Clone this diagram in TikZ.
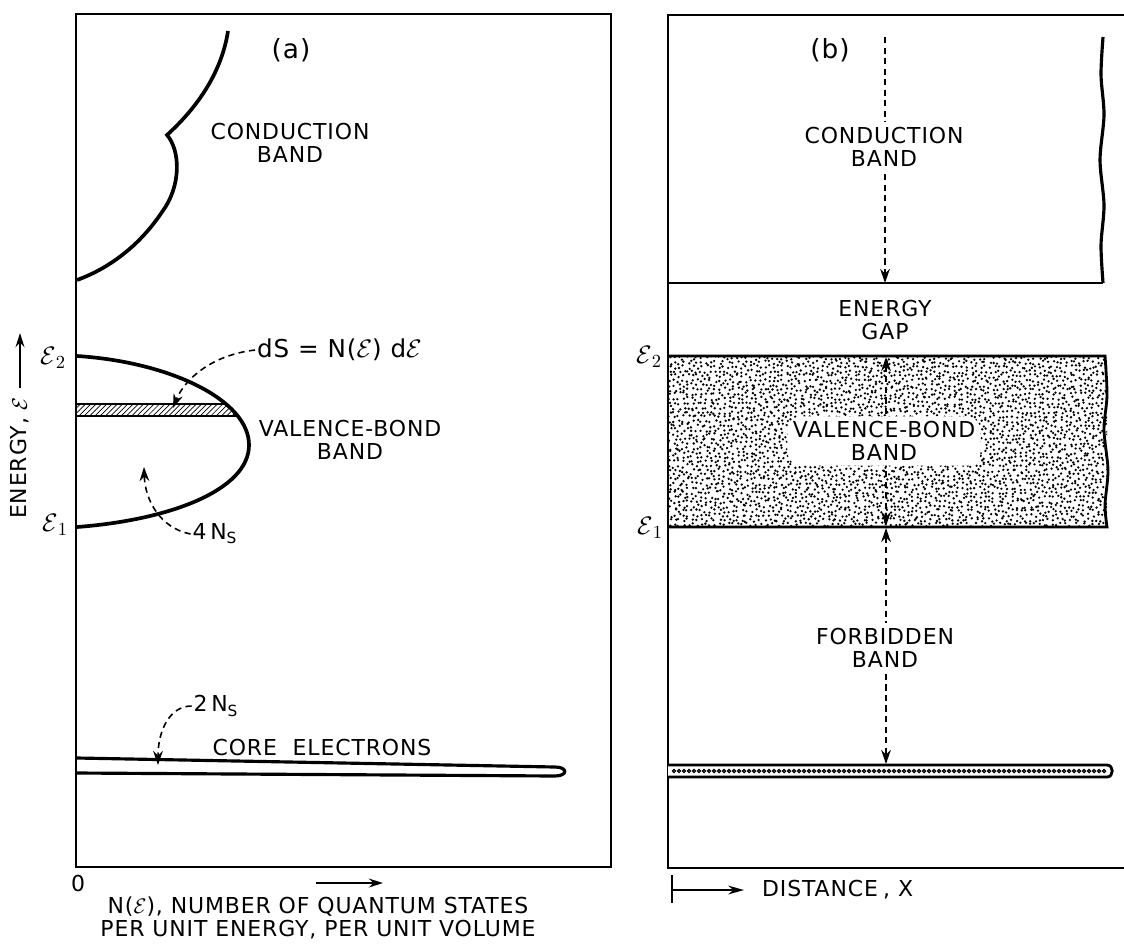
\documentclass[tikz,border=0pt]{standalone}
\usepackage{fontspec}
\newfontfamily\lbl{DejaVu Sans}[LetterSpace=4]
\usetikzlibrary{patterns,arrows.meta}
\begin{document}
\begin{tikzpicture}[x=0.02cm,y=-0.02cm,
  lab/.style={font=\lbl\fontsize{12.5}{12.8}\selectfont, align=center, inner sep=1pt},
  big/.style={font=\lbl\fontsize{15}{16}\selectfont, inner sep=1pt},
  elab/.style={font=\fontsize{15}{16}\selectfont, inner sep=1pt},
  frame/.style={line width=1.2pt},
  band/.style={line width=2.1pt},
  dsh/.style={line width=0.9pt, dash pattern=on 3.5pt off 2.5pt, -{Stealth[length=8pt,width=5.5pt]}},
  dsh2/.style={line width=0.9pt, dash pattern=on 3.5pt off 2.5pt, {Stealth[length=8pt,width=5.5pt]}-{Stealth[length=8pt,width=5.5pt]}},
  solidarrow/.style={line width=1.6pt, -{Stealth[length=8pt,width=5pt]}},
  wlab/.style={lab, fill=white, rounded corners=8pt, inner sep=3pt}
]
\useasboundingbox (0,0) rectangle (1124,943);

% ---------------- panel (a) ----------------
\draw[frame] (76,14) rectangle (611,867);
\node[big] (pa) at (291,50) {(a)};

% conduction band curve
\draw[band] (228,31) .. controls (222,70) and (200,105) .. (167,135)
  .. controls (180,150) and (182,185) .. (162,212)
  .. controls (140,245) and (110,268) .. (77,280);
\node[lab] (cba) at (290,143) {CONDUCTION\\BAND};

% valence band curve
\draw[band] (77,356) .. controls (170,362) and (249,400) .. (249,445)
  .. controls (249,490) and (170,520) .. (77,527);
\begin{scope}
  \clip (77,356) .. controls (170,362) and (249,400) .. (249,445)
    .. controls (249,490) and (170,520) .. (77,527) -- cycle;
  \fill[pattern=north east lines] (77,404) rectangle (260,416);
  \draw[line width=0.9pt] (77,404) -- (260,404) (77,416) -- (260,416);
\end{scope}

\node[lab, font=\lbl\fontsize{14}{15}\selectfont, anchor=west] (ds) at (255,350) {dS = N($\mathcal{E}$) d$\mathcal{E}$};
\coordinate (dsT) at (173,408);
\draw[dsh] (ds.west) .. controls (205,356) and (182,385) .. (dsT);

\node[lab] (vba) at (350,440) {VALENCE-BOND\\BAND};

\node[lab] (n4) at (215,534) {4\,N\textsubscript{S}};
\coordinate (n4T) at (144,467);
\draw[dsh] (n4.west) .. controls (160,528) and (145,500) .. (n4T);

\node[elab] (e2a) at (53,358) {$\mathcal{E}$\textsubscript{2}};
\node[elab] (e1a) at (55,525) {$\mathcal{E}$\textsubscript{1}};

\node[lab, rotate=90] (en) at (20,458) {ENERGY, $\mathcal{E}$};
\coordinate (enT) at (20,333);
\draw[solidarrow, shorten <=4pt] (en.east) -- (enT);

% core electrons
\draw[line width=1.8pt] (77,758) -- (555,767) .. controls (568,767) and (568,776) .. (555,776) -- (77,773);
\node[lab] (n2) at (216,706) {2\,N\textsubscript{S}};
\coordinate (n2T) at (158,765);
\draw[dsh] (n2.west) .. controls (170,706) and (158,730) .. (n2T);
\node[lab] (core) at (322,747) {CORE\ \ ELECTRONS};

% bottom axis labels
\node[lab] (zero) at (78,883) {0};
\coordinate (nA) at (316,883);
\coordinate (nB) at (383,883);
\draw[solidarrow] (nA) -- (nB);
\node[lab] (nlab) at (318,918) {N($\mathcal{E}$), NUMBER OF QUANTUM STATES\\PER UNIT ENERGY, PER UNIT VOLUME};

% ---------------- panel (b) ----------------
\draw[frame] (1124,15) -- (668,15) -- (668,868) -- (1124,868);
\node[big] (pb) at (830,50) {(b)};

% conduction band box
\draw[frame] (668,283) -- (1103,283);
\draw[line width=1.8pt] plot[smooth] coordinates {(1103,37) (1101,75) (1104,115) (1100,160) (1104,205) (1101,245) (1103,283)};
\coordinate (cT) at (885,37);
\coordinate (cB) at (885,283);
\draw[dsh] (cT) -- (cB);
\node[lab, fill=white, inner sep=3pt] (cbb) at (884,147) {CONDUCTION\\BAND};

\node[lab] (gap) at (885,320) {ENERGY\\GAP};

% valence band box with stipple
\begin{scope}
  \clip (668,356) rectangle (1107,527);
  \pgfmathsetseed{7}
  \foreach \i in {0,...,97}{
    \foreach \j in {0,...,38}{
      \fill ({670+\i*4.5+rand*1.9},{358+\j*4.5+rand*1.9}) circle (1.3);
    }
  }
\end{scope}
\draw[line width=1.6pt] (668,356) -- (1105,356) -- plot[smooth] coordinates {(1105,356) (1107,395) (1104,430) (1108,470) (1105,505) (1107,527)} -- (668,527);
\coordinate (vT) at (886,357);
\coordinate (vB) at (886,526);
\draw[dsh2] (vT) -- (vB);
\node[wlab] (vbb) at (884,441) {VALENCE-BOND\\BAND};

\node[elab] (e2b) at (649,357) {$\mathcal{E}$\textsubscript{2}};
\node[elab] (e1b) at (650,528) {$\mathcal{E}$\textsubscript{1}};

% forbidden band
\coordinate (fT) at (886,528);
\coordinate (fB) at (886,764);
\draw[dsh2] (fT) -- (fB);
\node[lab, fill=white, inner sep=3pt] (fbb) at (885,648) {FORBIDDEN\\BAND};

% core strip
\draw[line width=1.6pt, fill=white] (668,765) -- (1107,765) .. controls (1114,765) and (1114,777) .. (1107,777) -- (668,777);
\foreach \k in {0,...,86}{
  \draw[line width=0.7pt] ({674+\k*5},771) circle (1.6);
}

% distance axis
\coordinate (dA) at (672,890);
\coordinate (dB) at (744,890);
\draw[line width=1pt] (672,875) -- (672,903);
\draw[line width=1pt, -{Stealth[length=9pt,width=5pt]}] (dA) -- (dB);
\node[lab, anchor=west] (dist) at (760,890) {DISTANCE\hspace{3pt}, X};
\end{tikzpicture}
\end{document}
